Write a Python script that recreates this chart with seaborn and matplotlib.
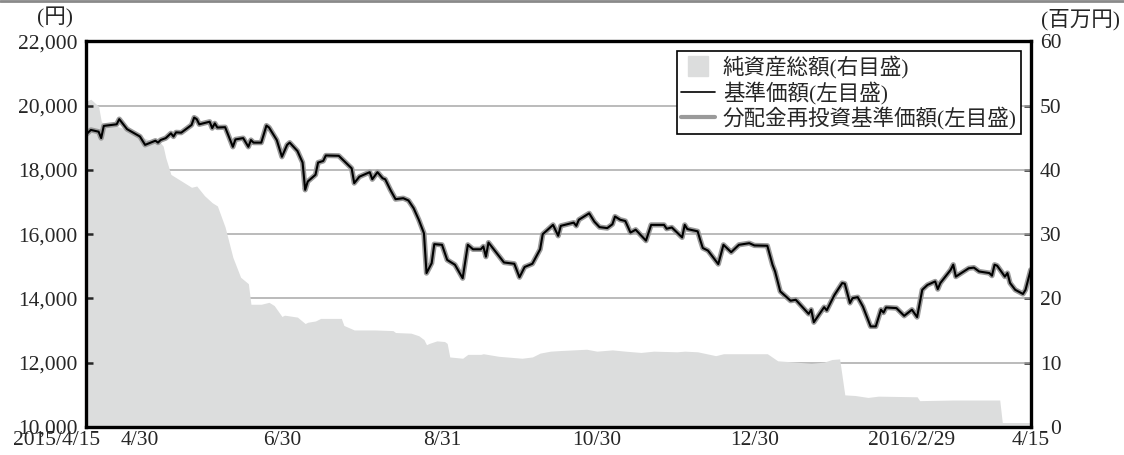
import matplotlib
matplotlib.use("Agg")
import matplotlib.pyplot as plt
import matplotlib.transforms as mtransforms
from matplotlib.lines import Line2D
import pandas as pd
import seaborn as sns

# 基準価額 (left axis, yen)
nav_dates = [
    "2015-04-15", "2015-04-17", "2015-04-20", "2015-04-21", "2015-04-22", "2015-04-27", "2015-04-28",
    "2015-05-01", "2015-05-06", "2015-05-08", "2015-05-12", "2015-05-13", "2015-05-14", "2015-05-16",
    "2015-05-18", "2015-05-19", "2015-05-20", "2015-05-22", "2015-05-26", "2015-05-27", "2015-05-28",
    "2015-05-29", "2015-06-02", "2015-06-03", "2015-06-04", "2015-06-05", "2015-06-08", "2015-06-11",
    "2015-06-12", "2015-06-15", "2015-06-17", "2015-06-18", "2015-06-19", "2015-06-22", "2015-06-24",
    "2015-06-25", "2015-06-28", "2015-06-30", "2015-07-02", "2015-07-03", "2015-07-06", "2015-07-08",
    "2015-07-09", "2015-07-10", "2015-07-13", "2015-07-14", "2015-07-16", "2015-07-17", "2015-07-22",
    "2015-07-27", "2015-07-28", "2015-07-30", "2015-08-03", "2015-08-04", "2015-08-06", "2015-08-08",
    "2015-08-09", "2015-08-11", "2015-08-13", "2015-08-16", "2015-08-18", "2015-08-20", "2015-08-22",
    "2015-08-24", "2015-08-25", "2015-08-27", "2015-08-28", "2015-08-31", "2015-09-02", "2015-09-05",
    "2015-09-08", "2015-09-10", "2015-09-12", "2015-09-15", "2015-09-16", "2015-09-17", "2015-09-18",
    "2015-09-24", "2015-09-28", "2015-09-30", "2015-10-02", "2015-10-05", "2015-10-08", "2015-10-09",
    "2015-10-13", "2015-10-15", "2015-10-16", "2015-10-21", "2015-10-22", "2015-10-23", "2015-10-27",
    "2015-10-29", "2015-10-31", "2015-11-03", "2015-11-05", "2015-11-06", "2015-11-08", "2015-11-10",
    "2015-11-12", "2015-11-14", "2015-11-18", "2015-11-20", "2015-11-25", "2015-11-26", "2015-11-28",
    "2015-12-02", "2015-12-03", "2015-12-04", "2015-12-08", "2015-12-09", "2015-12-10", "2015-12-12",
    "2015-12-16", "2015-12-18", "2015-12-21", "2015-12-24", "2015-12-28", "2015-12-30", "2016-01-04",
    "2016-01-06", "2016-01-07", "2016-01-09", "2016-01-13", "2016-01-15", "2016-01-20", "2016-01-21",
    "2016-01-22", "2016-01-26", "2016-01-27", "2016-01-30", "2016-02-02", "2016-02-03", "2016-02-05",
    "2016-02-06", "2016-02-08", "2016-02-10", "2016-02-13", "2016-02-15", "2016-02-17", "2016-02-18",
    "2016-02-19", "2016-02-23", "2016-02-26", "2016-02-29", "2016-03-02", "2016-03-04", "2016-03-06",
    "2016-03-09", "2016-03-10", "2016-03-11", "2016-03-15", "2016-03-16", "2016-03-17", "2016-03-22",
    "2016-03-24", "2016-03-26", "2016-03-30", "2016-03-31", "2016-04-01", "2016-04-02", "2016-04-05",
    "2016-04-06", "2016-04-07", "2016-04-09", "2016-04-12", "2016-04-13", "2016-04-15",
]
nav_values = [
    19090, 19245, 19190, 18990, 19370, 19420, 19580,
    19270, 19040, 18780, 18910, 18850, 18930, 18990,
    19140, 19040, 19170, 19160, 19400, 19630, 19580,
    19420, 19500, 19300, 19450, 19320, 19330, 18720,
    18950, 18990, 18720, 18930, 18850, 18850, 19380,
    19320, 18930, 18410, 18780, 18850, 18590, 18230,
    17380, 17640, 17850, 18230, 18280, 18450, 18440,
    18050, 17590, 17790, 17930, 17710, 17930, 17740,
    17710, 17380, 17090, 17120, 17050, 16810, 16450,
    16030, 14790, 15100, 15690, 15670, 15200, 15050,
    14630, 15670, 15530, 15530, 15620, 15300, 15740,
    15120, 15080, 14660, 14980, 15080, 15530, 16000,
    16290, 15950, 16260, 16360, 16260, 16450, 16650,
    16390, 16220, 16190, 16310, 16550, 16450, 16410,
    16050, 16140, 15800, 16290, 16290, 16170, 16210,
    15900, 16290, 16160, 16090, 15820, 15570, 15490,
    15070, 15670, 15440, 15670, 15720, 15650, 15640,
    15050, 14840, 14220, 13930, 13960, 13520, 13650,
    13260, 13730, 13630, 14110, 14480, 14460, 13860,
    14010, 14040, 13750, 13130, 13130, 13650, 13560,
    13720, 13700, 13460, 13650, 13420, 14270, 14420,
    14530, 14290, 14480, 14890, 15050, 14680, 14940,
    14960, 14840, 14790, 14710, 15050, 15020, 14680,
    14790, 14480, 14270, 14140, 14270, 14890,
]
# 分配金再投資基準価額 (no distributions -> same as 基準価額)
reinvest_values = list(nav_values)

# 純資産総額 (right axis, million yen)
asset_dates = [
    "2015-04-15", "2015-04-17", "2015-04-20", "2015-04-21", "2015-04-22", "2015-04-27", "2015-05-01",
    "2015-05-06", "2015-05-12", "2015-05-14", "2015-05-15", "2015-05-16", "2015-05-18", "2015-05-22",
    "2015-05-26", "2015-05-28", "2015-05-31", "2015-06-03", "2015-06-05", "2015-06-08", "2015-06-11",
    "2015-06-14", "2015-06-17", "2015-06-18", "2015-06-22", "2015-06-25", "2015-06-27", "2015-06-30",
    "2015-07-01", "2015-07-06", "2015-07-09", "2015-07-10", "2015-07-13", "2015-07-15", "2015-07-23",
    "2015-07-24", "2015-07-28", "2015-08-05", "2015-08-12", "2015-08-13", "2015-08-19", "2015-08-22",
    "2015-08-24", "2015-08-25", "2015-08-26", "2015-08-29", "2015-09-01", "2015-09-02", "2015-09-03",
    "2015-09-08", "2015-09-10", "2015-09-15", "2015-09-16", "2015-09-22", "2015-09-28", "2015-10-01",
    "2015-10-05", "2015-10-08", "2015-10-12", "2015-10-16", "2015-10-26", "2015-10-30", "2015-11-05",
    "2015-11-10", "2015-11-16", "2015-11-21", "2015-11-30", "2015-12-03", "2015-12-08", "2015-12-15",
    "2015-12-18", "2015-12-27", "2016-01-04", "2016-01-08", "2016-01-15", "2016-01-21", "2016-01-26",
    "2016-01-29", "2016-02-01", "2016-02-03", "2016-02-07", "2016-02-12", "2016-02-16", "2016-03-02",
    "2016-03-03", "2016-03-16", "2016-04-03", "2016-04-04", "2016-04-15",
]
asset_values = [
    50.7, 51.0, 49.9, 47.6, 47.0, 46.8, 46.3,
    45.2, 44.3, 44.2, 43.7, 41.9, 39.3, 38.3,
    37.3, 37.5, 36.0, 34.9, 34.4, 31.1, 26.4,
    23.3, 22.3, 19.1, 19.1, 19.4, 18.9, 17.2,
    17.4, 17.1, 16.1, 16.3, 16.5, 16.9, 16.9,
    15.8, 15.1, 15.1, 15.0, 14.7, 14.6, 14.2,
    13.6, 12.8, 13.0, 13.4, 13.3, 13.0, 10.9,
    10.7, 11.3, 11.3, 11.4, 11.0, 10.8, 10.7,
    10.9, 11.5, 11.8, 11.9, 12.1, 11.8, 12.0,
    11.8, 11.6, 11.8, 11.7, 11.8, 11.7, 11.1,
    11.4, 11.4, 11.4, 10.3, 10.1, 9.9, 10.1,
    10.5, 10.6, 5.0, 4.9, 4.6, 4.8, 4.7,
    4.1, 4.2, 4.2, 0.7, 0.7,
]

xtick_dates = ["2015-04-15", "2015-04-30", "2015-06-30", "2015-08-31",
               "2015-10-30", "2015-12-30", "2016-02-29", "2016-04-15"]
xtick_labels = ["2015/4/15", "4/30", "6/30", "8/31",
                "10/30", "12/30", "2016/2/29", "4/15"]
left_ticks = [10000, 12000, 14000, 16000, 18000, 20000, 22000]
right_ticks = [0, 10, 20, 30, 40, 50, 60]
legend_labels = ["純資産総額(右目盛)", "基準価額(左目盛)", "分配金再投資基準価額(左目盛)"]

sns.set_style("white")
plt.rcParams["font.family"] = ["Liberation Serif", "Noto Sans CJK JP"]

nav = pd.DataFrame({"date": pd.to_datetime(nav_dates), "nav": nav_values,
                    "reinvest": reinvest_values})
assets = pd.DataFrame({"date": pd.to_datetime(asset_dates), "asset": asset_values})

AREA = "#dcdddd"
GREY_LINE = "#9a9a9a"

fig = plt.figure(figsize=(11.24, 4.55), dpi=100)
ax = fig.add_axes([85.7 / 1124, 1 - 427 / 455, 945 / 1124, 385.6 / 455])
ax2 = ax.twinx()
ax.set_zorder(ax2.get_zorder() + 1)
ax.patch.set_visible(False)

# right axis: net assets area + grid behind it
for v in right_ticks[1:-1]:
    ax2.axhline(v, color="#a8a8a8", lw=1.1, zorder=1)
ax2.fill_between(assets["date"], assets["asset"], 0, color=AREA, lw=0, zorder=2)
ax2.set_ylim(0, 60)
ax2.set_yticks(right_ticks)
ax2.set_yticklabels([str(v) for v in right_ticks], ha="right")
for s in ax2.spines.values():
    s.set_visible(False)
ax2.tick_params(axis="y", direction="in", length=5, width=1.8, labelsize=15.5, pad=22)

# left axis: NAV lines
sns.lineplot(data=nav, x="date", y="reinvest", ax=ax, color=GREY_LINE, lw=3.8)
sns.lineplot(data=nav, x="date", y="nav", ax=ax, color="black", lw=1.5)
ax.set_ylim(10000, 22000)
ax.set_yticks(left_ticks)
ax.set_yticklabels([f"{v:,}" for v in left_ticks])
ax.set_xlim(pd.Timestamp("2015-04-15"), pd.Timestamp("2016-04-15"))
ax.set_xticks(pd.to_datetime(xtick_dates))
ax.set_xticklabels(xtick_labels)
ax.set_xlabel("")
ax.set_ylabel("")
ax.tick_params(axis="y", direction="in", length=5, width=1.8, labelsize=15.5, pad=6)
ax.tick_params(axis="x", direction="in", length=5, width=1.8, labelsize=15.5, pad=3)
for s in ax.spines.values():
    s.set_visible(True)
    s.set_linewidth(2.4)
    s.set_color("black")

# the first two date labels sit shifted as in the original
labs = ax.get_xticklabels()
labs[0].set_transform(labs[0].get_transform() +
                      mtransforms.ScaledTranslation(-0.29, 0, fig.dpi_scale_trans))
labs[1].set_transform(labs[1].get_transform() +
                      mtransforms.ScaledTranslation(0.15, 0, fig.dpi_scale_trans))

handles = [
    Line2D([], [], marker="s", ls="none", markersize=15, color=AREA),
    Line2D([], [], color="black", lw=1.2),
    Line2D([], [], color=GREY_LINE, lw=3),
]
leg = ax.legend(handles, legend_labels, loc="upper right", bbox_to_anchor=(0.990, 0.974),
                frameon=True, fancybox=False, edgecolor="black", framealpha=1,
                fontsize=15.5, handlelength=1.6, handletextpad=0.35, labelspacing=0.12,
                borderpad=0.2, borderaxespad=0)
leg.get_frame().set_linewidth(1.2)

fig.text(55 / 1124, 1 - 18 / 455, "(円)", ha="center", va="center", fontsize=15.5)
fig.text(1081 / 1124, 1 - 20 / 455, "(百万円)", ha="center", va="center", fontsize=15.5)
fig.add_artist(Line2D([0, 1], [1 - 1 / 455] * 2, color="#8a8a8a", lw=2,
                      transform=fig.transFigure))

fig.savefig("out.png", dpi=100)
